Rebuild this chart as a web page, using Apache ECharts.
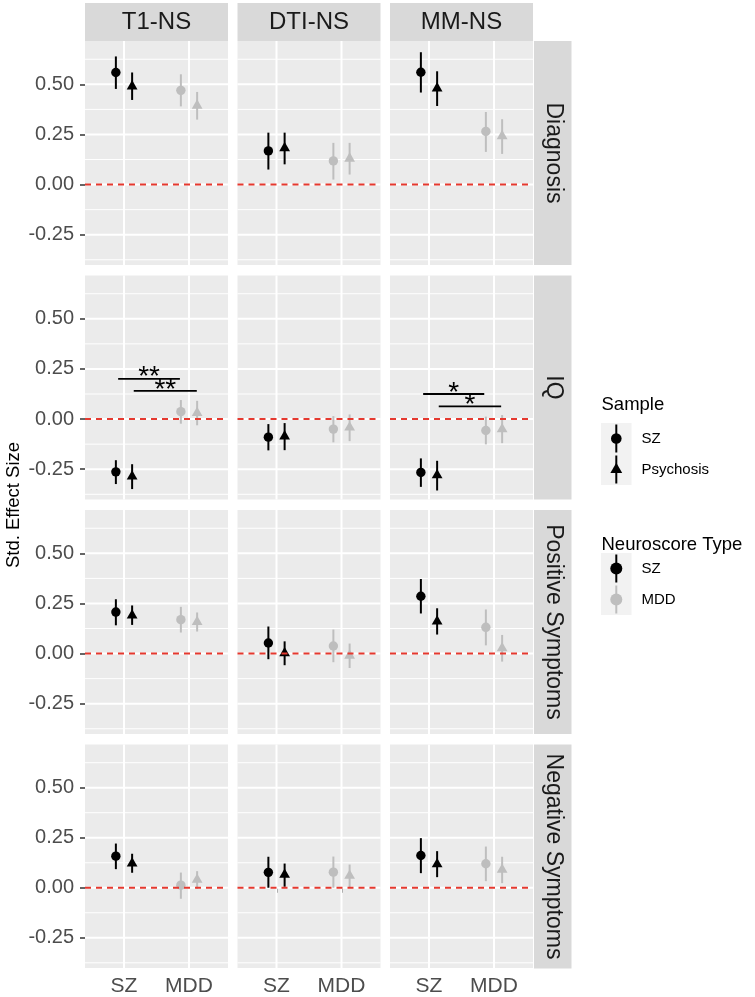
<!DOCTYPE html>
<html>
<head>
<meta charset="utf-8">
<script src="https://cdn.jsdelivr.net/npm/echarts@6/dist/echarts.min.js"></script>
<style>
html,body{margin:0;padding:0;background:#fff;}
#chart{width:755px;height:997px;}
</style>
</head>
<body>
<div id="chart"></div>
<script>
// ---------- DATA ----------
const columns = ['T1-NS', 'DTI-NS', 'MM-NS'];
const rowNames = ['Diagnosis', 'IQ', 'Positive Symptoms', 'Negative Symptoms'];
const categories = ['SZ', 'MDD'];          // Neuroscore type (x axis)
const samples = ['SZ', 'Psychosis'];       // Sample (shape)
const yTicks = [-0.25, 0, 0.25, 0.5];
const yMinor = [-0.375, -0.125, 0.125, 0.375, 0.625];

// per column: [SZ-score/SZ, SZ-score/Psychosis, MDD-score/SZ, MDD-score/Psychosis]
const diagnosisEst  = [[0.559, 0.490, 0.470, 0.394], [0.168, 0.182, 0.118, 0.130], [0.560, 0.480, 0.265, 0.242]];
const diagnosisLow  = [[0.477, 0.422, 0.390, 0.324], [0.075, 0.101, 0.025, 0.050], [0.459, 0.392, 0.163, 0.153]];
const diagnosisHigh = [[0.639, 0.559, 0.550, 0.462], [0.259, 0.259, 0.208, 0.208], [0.660, 0.565, 0.362, 0.326]];

const iqEst  = [[-0.263, -0.286, 0.037, 0.031], [-0.090, -0.086, -0.050, -0.042], [-0.266, -0.280, -0.057, -0.050]];
const iqLow  = [[-0.324, -0.349, -0.023, -0.031], [-0.156, -0.155, -0.116, -0.110], [-0.338, -0.356, -0.126, -0.120]];
const iqHigh = [[-0.205, -0.225, 0.095, 0.091], [-0.025, -0.020, 0.015, 0.023], [-0.196, -0.208, 0.012, 0.020]];

const positiveEst  = [[0.207, 0.190, 0.169, 0.158], [0.053, 0.002, 0.038, -0.010], [0.286, 0.160, 0.131, 0.027]];
const positiveLow  = [[0.141, 0.143, 0.105, 0.110], [-0.028, -0.058, -0.043, -0.072], [0.200, 0.095, 0.041, -0.040]];
const positiveHigh = [[0.271, 0.240, 0.233, 0.205], [0.135, 0.061, 0.120, 0.050], [0.372, 0.226, 0.220, 0.093]];

const negativeEst  = [[0.158, 0.122, 0.013, 0.040], [0.077, 0.065, 0.078, 0.060], [0.161, 0.118, 0.120, 0.090]];
const negativeLow  = [[0.093, 0.075, -0.055, -0.005], [0.000, 0.005, 0.000, 0.003], [0.073, 0.053, 0.033, 0.023]];
const negativeHigh = [[0.221, 0.170, 0.076, 0.083], [0.155, 0.121, 0.156, 0.116], [0.248, 0.183, 0.206, 0.155]];

// significance brackets (IQ row)
const sigRow = 1;
const sigCol   = [0, 0, 2, 2];
const sigXmin  = [0.91, 1.15, 0.91, 1.15];
const sigXmax  = [1.86, 2.12, 1.85, 2.11];
const sigY     = [0.201, 0.141, 0.125, 0.063];
const sigLabel = ['**', '**', '*', '*'];

// ---------- LAYOUT / STYLE ----------
const FONT = 'Liberation Sans, Arial, Helvetica, sans-serif';
const estAll  = [diagnosisEst, iqEst, positiveEst, negativeEst];
const lowAll  = [diagnosisLow, iqLow, positiveLow, negativeLow];
const highAll = [diagnosisHigh, iqHigh, positiveHigh, negativeHigh];
const colLeft = [85, 237.5, 390];
const rowTop = [41, 275.5, 510, 744.5];
const PW = 143, PH = 224;
const Y_MIN = -0.401, Y_MAX = 0.716;
const DODGE = 0.125;
const COLORS = ['#000000', '#BEBEBE'];

function triPts(cx, cy, R) {
  return [[cx, cy - 1.555 * R], [cx + 1.347 * R, cy + 0.778 * R], [cx - 1.347 * R, cy + 0.778 * R]];
}

const grids = [], xAxes = [], yAxes = [], series = [];
for (let r = 0; r < 4; r++) {
  for (let c = 0; c < 3; c++) {
    const gi = r * 3 + c;
    const bottom = r === 3, left = c === 0;
    grids.push({left: colLeft[c], top: rowTop[r], width: PW, height: PH, show: true,
      backgroundColor: '#EBEBEB', borderWidth: 0, containLabel: false});
    xAxes.push({gridIndex: gi, type: 'value', min: 0.4, max: 2.6,
      axisLine: {show: false}, splitLine: {show: false},
      axisTick: {show: bottom, customValues: [1, 2], length: 5, lineStyle: {color: '#333333', width: 1.5}},
      axisLabel: {show: bottom, customValues: [1, 2], formatter: v => categories[Math.round(v) - 1],
        fontSize: 21, color: '#4D4D4D', fontFamily: FONT, margin: 8}});
    yAxes.push({gridIndex: gi, type: 'value', min: Y_MIN, max: Y_MAX,
      axisLine: {show: false}, splitLine: {show: false},
      axisTick: {show: left, customValues: yTicks, length: 5, lineStyle: {color: '#333333', width: 1.5}},
      axisLabel: {show: left, customValues: yTicks, formatter: v => Number(v).toFixed(2),
        fontSize: 20, color: '#4D4D4D', fontFamily: FONT, margin: 11}});

    // grid lines
    series.push({type: 'custom', xAxisIndex: gi, yAxisIndex: gi, silent: true, z: 1,
      data: [[1, 0]],
      renderItem: function (params, api) {
        const cs = params.coordSys;
        const ch = [];
        yMinor.forEach(v => {
          const p = api.coord([1, v]);
          if (p[1] >= cs.y && p[1] <= cs.y + cs.height)
            ch.push({type: 'line', shape: {x1: cs.x, y1: p[1], x2: cs.x + cs.width, y2: p[1]}, style: {stroke: '#FFFFFF', lineWidth: 1}});
        });
        yTicks.forEach(v => {
          const p = api.coord([1, v]);
          ch.push({type: 'line', shape: {x1: cs.x, y1: p[1], x2: cs.x + cs.width, y2: p[1]}, style: {stroke: '#FFFFFF', lineWidth: 2}});
        });
        [1, 2].forEach(v => {
          const p = api.coord([v, 0]);
          ch.push({type: 'line', shape: {x1: p[0], y1: cs.y, x2: p[0], y2: cs.y + cs.height}, style: {stroke: '#FFFFFF', lineWidth: 2}});
        });
        return {type: 'group', children: ch};
      }});

    // points with error bars
    const pts = [];
    for (let k = 0; k < 4; k++) {
      const cat = Math.floor(k / 2), smp = k % 2;
      pts.push([cat + 1 + (smp === 0 ? -DODGE : DODGE), estAll[r][c][k], lowAll[r][c][k], highAll[r][c][k], cat, smp]);
    }
    series.push({type: 'custom', xAxisIndex: gi, yAxisIndex: gi, silent: true, z: 3,
      encode: {x: 0, y: [1, 2, 3]}, data: pts,
      renderItem: function (params, api) {
        const x = api.value(0), est = api.value(1), lo = api.value(2), hi = api.value(3);
        const cat = api.value(4), smp = api.value(5);
        const col = COLORS[cat];
        const pT = api.coord([x, hi]), pB = api.coord([x, lo]), pC = api.coord([x, est]);
        const ch = [{type: 'line', shape: {x1: pT[0], y1: pT[1], x2: pB[0], y2: pB[1]}, style: {stroke: col, lineWidth: 2}}];
        if (smp === 0) ch.push({type: 'circle', shape: {cx: pC[0], cy: pC[1], r: 4.7}, style: {fill: col}});
        else ch.push({type: 'polygon', shape: {points: triPts(pC[0], pC[1], 4.0)}, style: {fill: col}});
        return {type: 'group', children: ch};
      }});

    // zero reference line
    series.push({type: 'custom', xAxisIndex: gi, yAxisIndex: gi, silent: true, z: 4,
      data: [[1, 0]],
      renderItem: function (params, api) {
        const cs = params.coordSys;
        const p = api.coord([1, 0]);
        return {type: 'line', shape: {x1: cs.x, y1: p[1], x2: cs.x + cs.width, y2: p[1]},
          style: {stroke: '#E5392F', lineWidth: 2, lineDash: [6, 5]}};
      }});

    // significance brackets
    if (r === sigRow) {
      const sd = [];
      for (let s = 0; s < sigCol.length; s++) if (sigCol[s] === c) sd.push([sigXmin[s], sigXmax[s], sigY[s], s]);
      if (sd.length) {
        series.push({type: 'custom', xAxisIndex: gi, yAxisIndex: gi, silent: true, z: 5,
          encode: {x: [0, 1], y: 2}, data: sd,
          renderItem: function (params, api) {
            const a = api.coord([api.value(0), api.value(2)]);
            const b = api.coord([api.value(1), api.value(2)]);
            const lab = sigLabel[api.value(3)];
            return {type: 'group', children: [
              {type: 'line', shape: {x1: a[0], y1: a[1], x2: b[0], y2: b[1]}, style: {stroke: '#000', lineWidth: 1.8}},
              {type: 'text', x: (a[0] + b[0]) / 2, y: a[1] + 13,
                style: {text: lab, fontSize: 28, fontFamily: FONT, fill: '#000', align: 'center', verticalAlign: 'bottom'}}
            ]};
          }});
      }
    }
  }
}

// ---------- STRIPS, TITLES, LEGEND ----------
const graphic = [];
columns.forEach((name, c) => {
  graphic.push({type: 'rect', shape: {x: colLeft[c], y: 3, width: PW, height: 38}, style: {fill: '#D9D9D9'}, silent: true});
  graphic.push({type: 'text', x: colLeft[c] + PW / 2, y: 22.5,
    style: {text: name, fontSize: 24, fontFamily: FONT, fill: '#1A1A1A', align: 'center', verticalAlign: 'middle'}, silent: true});
});
rowNames.forEach((name, r) => {
  graphic.push({type: 'rect', shape: {x: 534, y: rowTop[r], width: 37.5, height: PH}, style: {fill: '#D9D9D9'}, silent: true});
  graphic.push({type: 'text', x: 553, y: rowTop[r] + PH / 2, rotation: -Math.PI / 2,
    style: {text: name, fontSize: 23, fontFamily: FONT, fill: '#1A1A1A', align: 'center', verticalAlign: 'middle'}, silent: true});
});
graphic.push({type: 'text', x: 13.5, y: 505, rotation: Math.PI / 2,
  style: {text: 'Std. Effect Size', fontSize: 18.5, fontFamily: FONT, fill: '#000', align: 'center', verticalAlign: 'middle'}, silent: true});

// Legends
function legendBlock(title, titleY, keyTop, labels, kind) {
  graphic.push({type: 'text', x: 601.5, y: titleY,
    style: {text: title, fontSize: 18.5, fontFamily: FONT, fill: '#000', align: 'left', verticalAlign: 'middle'}, silent: true});
  graphic.push({type: 'rect', shape: {x: 601, y: keyTop, width: 30.5, height: 31 * labels.length}, style: {fill: '#F2F2F2'}, silent: true});
  labels.forEach((lab, i) => {
    const cy = keyTop + 15.5 + 31 * i, cx = 616.3;
    const col = kind === 'shape' ? '#000' : COLORS[i];
    graphic.push({type: 'line', shape: {x1: cx, y1: cy - 14, x2: cx, y2: cy + 14}, style: {stroke: col, lineWidth: 2}, silent: true});
    if (kind === 'shape' && i === 1)
      graphic.push({type: 'polygon', shape: {points: triPts(cx, cy, 4.4)}, style: {fill: col}, silent: true});
    else
      graphic.push({type: 'circle', shape: {cx: cx, cy: cy, r: kind === 'shape' ? 5.3 : 6}, style: {fill: col}, silent: true});
    graphic.push({type: 'text', x: 641.5, y: cy,
      style: {text: lab, fontSize: 15, fontFamily: FONT, fill: '#000', align: 'left', verticalAlign: 'middle'}, silent: true});
  });
}
legendBlock('Sample', 405, 423, samples, 'shape');
legendBlock('Neuroscore Type', 545, 553, categories, 'color');

const chart = echarts.init(document.getElementById('chart'), null, {renderer: 'canvas'});
chart.setOption({
  animation: false,
  backgroundColor: '#FFFFFF',
  grid: grids, xAxis: xAxes, yAxis: yAxes, series: series, graphic: graphic
});
</script>
</body>
</html>
